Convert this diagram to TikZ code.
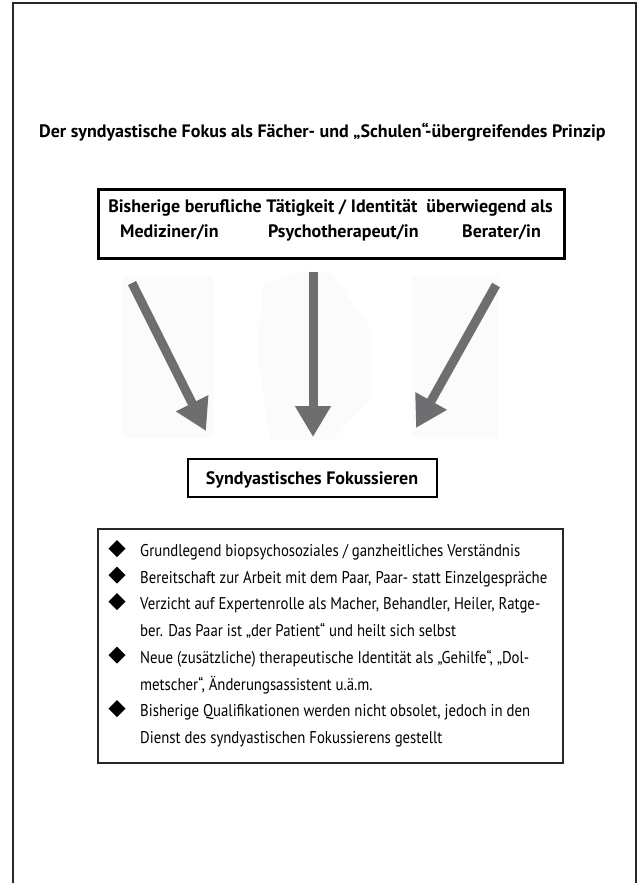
\documentclass[tikz,border=0pt]{standalone}
\usepackage{fontspec}
\setmainfont{PT Sans}
\newfontfamily\headfont{PT Sans}
\newfontfamily\bodyfont[FakeStretch=0.87]{PT Sans}
\usetikzlibrary{arrows.meta}

\definecolor{arrowgray}{RGB}{110,110,112}
\definecolor{framegray}{RGB}{40,40,40}
\definecolor{haze}{RGB}{251,251,251}

\tikzset{
  headtext/.style={inner sep=0pt, font=\headfont\bfseries\fontsize{18}{22}\selectfont},
  bodytext/.style={inner sep=0pt, anchor=base west, font=\bodyfont\fontsize{17}{20}\selectfont},
  flowarrow/.style={draw=arrowgray, line width=9pt,
    -{Triangle[length=31pt,width=34pt]}},
}

\begin{document}
\begin{tikzpicture}[x=1pt,y=-1pt]
\useasboundingbox (0,0) rectangle (637,883);

% open frame around the page
\draw[framegray, line width=1.4pt] (13,883) -- (13,3) -- (636,3) -- (636,883);

% heading
\node[headtext, anchor=base west] (title) at (39,137)
  {Der syndyastische Fokus als Fächer- und „Schulen“-übergreifendes Prinzip};

% box with the former professional roles
\node[draw=black, line width=3pt, minimum width=466pt, minimum height=69pt,
      inner sep=0pt] (roles) at (331,223.5) {};
\node[headtext, anchor=base] (rolehead) at (330.5,212)
  {Bisherige berufliche Tätigkeit / Identität \ überwiegend als};
\node[headtext, anchor=base west] (med) at (120,237) {Mediziner/in};
\node[headtext, anchor=base west] (psy) at (268,237) {Psychotherapeut/in};
\node[headtext, anchor=base east] (ber) at (541,237) {Berater/in};

% faint backdrops behind the arrows
\fill[haze] (123,277) rectangle (213,438);
\fill[haze] (263,285) -- (303,271) -- (330,272) -- (372,330) -- (372,398)
  -- (332,440) -- (270,440) -- (257,350) -- cycle;
\fill[haze] (412,276) rectangle (498,437);

% arrows converging on the common focus
\coordinate (ltail) at (132,283);
\coordinate (ltip)  at (206,431);
\coordinate (mtail) at (313,272);
\coordinate (mtip)  at (313,437);
\coordinate (rtail) at (496,285);
\coordinate (rtip)  at (416,428);
\draw[flowarrow] (ltail) -- (ltip);
\draw[flowarrow] (mtail) -- (mtip);
\draw[flowarrow] (rtail) -- (rtip);

% the common focus
\node[draw=black, line width=2.5pt, minimum width=249pt, minimum height=38pt,
      inner sep=0pt] (focus) at (312.5,478) {};
\node[headtext, anchor=base] (focustext) at (312,484) {Syndyastisches Fokussieren};

% list of characteristics
\node[draw=framegray, line width=1.2pt, minimum width=465pt, minimum height=234pt,
      inner sep=0pt] (list) at (330.5,646) {};

\foreach \y in {556.5, 583, 609.5, 663, 716.5} {
  \fill[black] (117,\y-16.5) -- (125.5,\y-8) -- (117,\y+0.5) -- (108.5,\y-8) -- cycle;
}

\node[bodytext] (l1) at (140,556.5) {Grundlegend biopsychosoziales / ganzheitliches Verständnis};
\node[bodytext] (l2) at (140,583) {Bereitschaft zur Arbeit mit dem Paar, Paar- statt Einzelgespräche};
\node[bodytext] (l3) at (140,609.5) {Verzicht auf Expertenrolle als Macher, Behandler, Heiler, Ratge-};
\node[bodytext] (l4) at (140,636) {ber. Das Paar ist „der Patient“ und heilt sich selbst};
\node[bodytext] (l5) at (140,663) {Neue (zusätzliche) therapeutische Identität als „Gehilfe“, „Dol-};
\node[bodytext] (l6) at (140,690) {metscher“, Änderungsassistent u.ä.m.};
\node[bodytext] (l7) at (140,716.5) {Bisherige Qualifikationen werden nicht obsolet, jedoch in den};
\node[bodytext] (l8) at (140,743) {Dienst des syndyastischen Fokussierens gestellt};
\end{tikzpicture}
\end{document}
